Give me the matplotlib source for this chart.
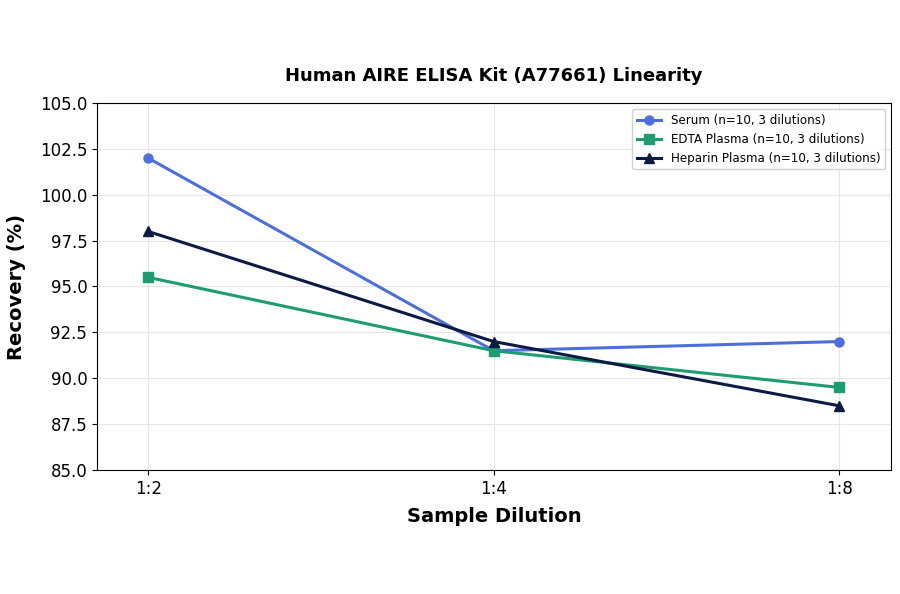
import matplotlib
matplotlib.use("Agg")
import matplotlib.pyplot as plt

dilutions = ["1:2", "1:4", "1:8"]
serum = [102.0, 91.5, 92.0]
edta = [95.5, 91.5, 89.5]
heparin = [98.0, 92.0, 88.5]
labels = ["Serum (n=10, 3 dilutions)", "EDTA Plasma (n=10, 3 dilutions)", "Heparin Plasma (n=10, 3 dilutions)"]
yticks = [85.0, 87.5, 90.0, 92.5, 95.0, 97.5, 100.0, 102.5, 105.0]

fig = plt.figure(figsize=(9, 5.94), dpi=100)
ax = fig.add_axes([97/900, 1-470/594, (891-97)/900, (470-103)/594])
x = range(len(dilutions))
ax.plot(x, serum, color="#4f6fd8", marker="o", lw=2.2, ms=6.5, label=labels[0])
ax.plot(x, edta, color="#1e9c70", marker="s", lw=2.2, ms=6.5, label=labels[1])
ax.plot(x, heparin, color="#0c1a44", marker="^", lw=2.2, ms=6.5, label=labels[2])
ax.set_xticks(list(x))
ax.set_xticklabels(dilutions, fontsize=12)
ax.set_ylim(85, 105)
ax.set_yticks(yticks)
ax.set_yticklabels([f"{v:.1f}" for v in yticks], fontsize=12)
ax.set_xlim(-0.148, 2.15)
ax.grid(True, color="#e6e6e6", lw=0.8)
ax.set_axisbelow(True)
ax.set_xlabel("Sample Dilution", fontsize=14, fontweight="bold", labelpad=6.5)
ax.set_ylabel("Recovery (%)", fontsize=14, fontweight="bold", labelpad=10)
ax.set_title("Human AIRE ELISA Kit (A77661) Linearity", fontsize=13, fontweight="bold", pad=16)
ax.legend(loc="upper right", fontsize=8.6, framealpha=0.9)
fig.savefig("out.png", dpi=100)
